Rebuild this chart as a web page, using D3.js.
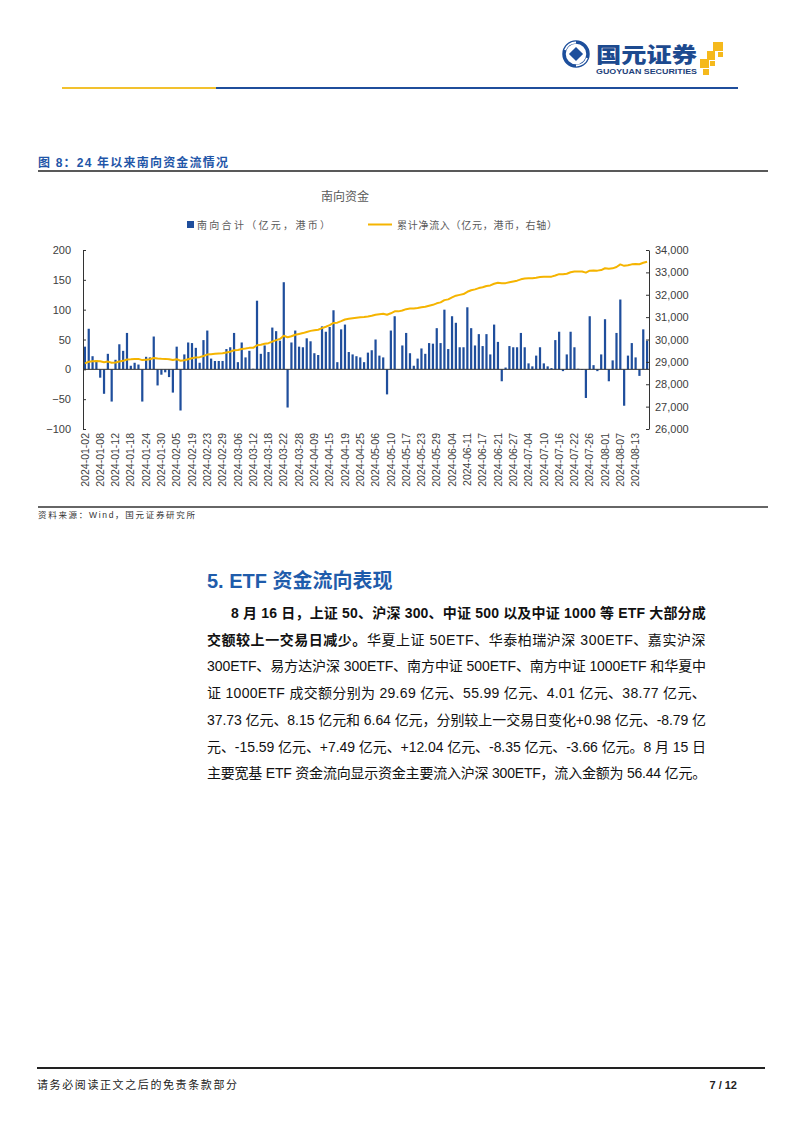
<!DOCTYPE html>
<html><head><meta charset="utf-8">
<script src="https://cdn.jsdelivr.net/npm/d3@7"></script>
<style>
body{margin:0;background:#fff;}
svg{display:block;}
</style></head><body>
<svg id="page" width="802" height="1133"></svg>
<script>
// ---------------- DATA ----------------
const dates = [
"2024-01-02","2024-01-03","2024-01-04","2024-01-05","2024-01-08","2024-01-09","2024-01-10","2024-01-11","2024-01-12","2024-01-15",
"2024-01-16","2024-01-17","2024-01-18","2024-01-19","2024-01-22","2024-01-23","2024-01-24","2024-01-25","2024-01-26","2024-01-29",
"2024-01-30","2024-01-31","2024-02-01","2024-02-02","2024-02-05","2024-02-06","2024-02-07","2024-02-08","2024-02-19","2024-02-20",
"2024-02-21","2024-02-22","2024-02-23","2024-02-26","2024-02-27","2024-02-28","2024-02-29","2024-03-01","2024-03-04","2024-03-05",
"2024-03-06","2024-03-07","2024-03-08","2024-03-11","2024-03-12","2024-03-13","2024-03-14","2024-03-15","2024-03-18","2024-03-19",
"2024-03-20","2024-03-21","2024-03-22","2024-03-25","2024-03-26","2024-03-27","2024-03-28","2024-04-02","2024-04-03","2024-04-08",
"2024-04-09","2024-04-10","2024-04-11","2024-04-12","2024-04-15","2024-04-16","2024-04-17","2024-04-18","2024-04-19","2024-04-22",
"2024-04-23","2024-04-24","2024-04-25","2024-04-26","2024-04-29","2024-04-30","2024-05-06","2024-05-07","2024-05-08","2024-05-09",
"2024-05-10","2024-05-13","2024-05-14","2024-05-16","2024-05-17","2024-05-20","2024-05-21","2024-05-22","2024-05-23","2024-05-24",
"2024-05-27","2024-05-28","2024-05-29","2024-05-30","2024-05-31","2024-06-03","2024-06-04","2024-06-05","2024-06-06","2024-06-07",
"2024-06-11","2024-06-12","2024-06-13","2024-06-14","2024-06-17","2024-06-18","2024-06-19","2024-06-20","2024-06-21","2024-06-24",
"2024-06-25","2024-06-26","2024-06-27","2024-06-28","2024-07-02","2024-07-03","2024-07-04","2024-07-05","2024-07-08","2024-07-09",
"2024-07-10","2024-07-11","2024-07-12","2024-07-15","2024-07-16","2024-07-17","2024-07-18","2024-07-19","2024-07-22","2024-07-23",
"2024-07-24","2024-07-25","2024-07-26","2024-07-29","2024-07-30","2024-07-31","2024-08-01","2024-08-02","2024-08-05","2024-08-06",
"2024-08-07","2024-08-08","2024-08-09","2024-08-12","2024-08-13","2024-08-14","2024-08-15","2024-08-16"
];

// 南向合计（亿元，港币）
const southboundNet = [
38,68,22,15,-14,-41,26,-54,16,42,
31,61,6,11,8,-54,21,20,55,-27,
-9,-5,-13,-39,38,-69,25,45,44,36,
11,49,65,18,14,14,14,34,37,61,
12,45,20,31,1,115,26,40,29,70,
64,48,146,-64,45,65,38,37,52,47,
27,24,72,63,71,99,12,67,75,29,
25,22,20,12,28,32,50,23,20,-42,
65,89,-1,40,61,27,6,18,35,26,
44,43,69,44,100,34,89,78,37,37,
104,69,40,59,39,59,25,75,46,-20,
3,39,37,37,61,37,10,5,23,37,
10,5,2,49,63,-3,25,63,37,1,
-1,-48,89,7,-3,25,84,-20,15,61,
117,-61,23,44,20,-11,67,48
];

// 累计净流入（亿元，港币，右轴）
const cumulativeInflow = [
28936,29004,29026,29041,29027,28986,29012,28958,28974,29016,
29047,29108,29114,29125,29133,29079,29100,29120,29175,29148,
29139,29134,29121,29082,29120,29051,29076,29121,29165,29201,
29212,29261,29326,29344,29358,29372,29386,29420,29457,29518,
29530,29575,29595,29626,29627,29742,29768,29808,29837,29907,
29971,30019,30165,30101,30146,30211,30249,30286,30338,30385,
30412,30436,30508,30571,30642,30741,30753,30820,30895,30924,
30949,30971,30991,31002,31029,31060,31109,31131,31150,31107,
31172,31260,31258,31297,31357,31383,31388,31405,31439,31464,
31507,31549,31617,31660,31760,31793,31881,31958,31994,32030,
32133,32201,32240,32298,32336,32394,32418,32492,32538,32517,
32519,32557,32593,32629,32689,32725,32734,32738,32760,32796,
32805,32809,32810,32859,32921,32917,32941,33003,33039,33039,
33037,32988,33076,33082,33078,33102,33185,33165,33179,33239,
33355,33293,33315,33358,33377,33365,33431,33478
];

const xTickLabels = [
"2024-01-02","2024-01-08","2024-01-12","2024-01-18","2024-01-24","2024-01-30","2024-02-05","2024-02-19","2024-02-23","2024-02-29",
"2024-03-06","2024-03-12","2024-03-18","2024-03-22","2024-03-28","2024-04-09","2024-04-15","2024-04-19","2024-04-25","2024-05-06",
"2024-05-10","2024-05-17","2024-05-23","2024-05-29","2024-06-04","2024-06-11","2024-06-17","2024-06-21","2024-06-27","2024-07-04",
"2024-07-10","2024-07-16","2024-07-22","2024-07-26","2024-08-01","2024-08-07","2024-08-13"
];
const leftTicks = [200,150,100,50,0,-50,-100];
const rightTicks = [34000,33000,32000,31000,30000,29000,28000,27000,26000];

const seriesNames = ["南向合计（亿元，港币）","累计净流入（亿元，港币，右轴）"];
const chartTitle = "南向资金";
const figTitle = "图 8：24 年以来南向资金流情况";
const sourceText = "资料来源：Wind，国元证券研究所";
const sectionTitle = "5. ETF 资金流向表现";
const paraLines = [
 {indent:true, segs:[["8 月 16 日，上证 50、沪深 300、中证 500 以及中证 1000 等 ETF 大部分成",true]]},
 {indent:false, segs:[["交额较上一交易日减少。",true],["华夏上证 50ETF、华泰柏瑞沪深 300ETF、嘉实沪深",false]]},
 {indent:false, segs:[["300ETF、易方达沪深 300ETF、南方中证 500ETF、南方中证 1000ETF 和华夏中",false]]},
 {indent:false, segs:[["证 1000ETF 成交额分别为 29.69 亿元、55.99 亿元、4.01 亿元、38.77 亿元、",false]]},
 {indent:false, segs:[["37.73 亿元、8.15 亿元和 6.64 亿元，分别较上一交易日变化+0.98 亿元、-8.79 亿",false]]},
 {indent:false, segs:[["元、-15.59 亿元、+7.49 亿元、+12.04 亿元、-8.35 亿元、-3.66 亿元。8 月 15 日",false]]},
 {indent:false, segs:[["主要宽基 ETF 资金流向显示资金主要流入沪深 300ETF，流入金额为 56.44 亿元。",false]]}
];
const footerText = "请务必阅读正文之后的免责条款部分";
const pageText = "7 / 12";

// ---------------- STYLE ----------------
const FONT = "'Liberation Sans', Arial, 'Noto Sans CJK SC', sans-serif";
const CJK = "'Noto Sans CJK SC', sans-serif";
const BAR = "#1f4e9c";
const LINE = "#f5b400";
const AXIS_TXT = "#404040";
const BLUE_TXT = "#1f56a8";

const svg = d3.select("#page");

// ---------------- HEADER ----------------
const logo = svg.append("g");
logo.append("circle").attr("cx",576).attr("cy",54).attr("r",12)
  .attr("fill","none").attr("stroke","#1d4f9c").attr("stroke-width",3.5);
logo.append("rect").attr("x",571).attr("y",49).attr("width",10).attr("height",10)
  .attr("transform","rotate(45,576,54)").attr("fill","#1d4f9c");
logo.append("path").attr("d","M565,50 A11.5,11.5 0 0 1 576,42.5").attr("stroke","#fff").attr("stroke-width",1.8).attr("fill","none");
logo.append("path").attr("d","M587,58 A11.5,11.5 0 0 1 576,65.5").attr("stroke","#fff").attr("stroke-width",1.8).attr("fill","none");
logo.append("text").attr("x",596).attr("y",62).text("国元证券")
  .attr("font-family",CJK).attr("font-weight",900).attr("font-size",21)
  .attr("fill","#1d4a8f").attr("textLength",101).attr("lengthAdjust","spacingAndGlyphs");
logo.append("text").attr("x",596).attr("y",73.5).text("GUOYUAN SECURITIES")
  .attr("font-family",FONT).attr("font-weight",700).attr("font-size",8)
  .attr("fill","#1d3f7a").attr("textLength",101).attr("lengthAdjust","spacingAndGlyphs");
const gold = "#f5b91c";
[[713,42,10,9],[707,51,8,9],[700,59,9,9],[718,52,5,5],[710,61,5,5],[703,69,6,6]].forEach(r=>{
  logo.append("rect").attr("x",r[0]).attr("y",r[1]).attr("width",r[2]).attr("height",r[3]).attr("fill",gold);
});
svg.append("line").attr("x1",62).attr("x2",216).attr("y1",88).attr("y2",88).attr("stroke","#f2c12e").attr("stroke-width",2);
svg.append("line").attr("x1",216).attr("x2",738).attr("y1",88).attr("y2",88).attr("stroke","#1f4e9c").attr("stroke-width",2);

// ---------------- FIGURE TITLE ----------------
svg.append("text").attr("x",38).attr("y",166.5).text(figTitle)
  .attr("font-family",FONT).attr("font-weight",700).attr("font-size",12).attr("fill",BLUE_TXT)
  .attr("textLength",190).attr("lengthAdjust","spacing");
svg.append("line").attr("x1",38).attr("x2",768).attr("y1",171).attr("y2",171).attr("stroke","#222").attr("stroke-width",1.5);

// ---------------- CHART ----------------
const X0=83, X1=649, YT=250, YB=429;
const x = d3.scaleBand().domain(dates).range([X0,X1]).paddingInner(0.42).paddingOuter(0.21);
const xc = d => x(d) + x.bandwidth()/2;
const yL = d3.scaleLinear().domain([-100,200]).range([YB,YT]);
const yR = d3.scaleLinear().domain([26000,34000]).range([YB,YT]);

svg.append("text").attr("x",345).attr("y",201).attr("text-anchor","middle").text(chartTitle)
  .attr("font-family",CJK).attr("font-size",12).attr("fill","#595959");

// legend
const lg = svg.append("g").attr("font-family",FONT).attr("font-size",10).attr("fill","#595959");
lg.append("rect").attr("x",187).attr("y",221).attr("width",7).attr("height",7).attr("fill",BAR);
lg.append("text").attr("x",197).attr("y",228.5).text(seriesNames[0]).attr("textLength",133).attr("lengthAdjust","spacing");
lg.append("line").attr("x1",368).attr("x2",392).attr("y1",224.5).attr("y2",224.5).attr("stroke",LINE).attr("stroke-width",2);
lg.append("text").attr("x",397).attr("y",228.5).text(seriesNames[1]).attr("textLength",160).attr("lengthAdjust","spacing");

// bars
svg.append("g").selectAll("rect").data(southboundNet).join("rect")
  .attr("x",(v,i)=>x(dates[i]))
  .attr("width",x.bandwidth())
  .attr("y",v=>yL(Math.max(0,v)))
  .attr("height",v=>Math.abs(yL(v)-yL(0)))
  .attr("fill",BAR);

// zero axis
svg.append("line").attr("x1",X0).attr("x2",X1).attr("y1",yL(0)).attr("y2",yL(0)).attr("stroke","#333").attr("stroke-width",1);

// line
svg.append("path").datum(cumulativeInflow)
  .attr("d",d3.line().x((v,i)=>xc(dates[i])).y(v=>yR(v)))
  .attr("fill","none").attr("stroke",LINE).attr("stroke-width",2).attr("stroke-linejoin","round");

// axes
const ax = svg.append("g").attr("transform",`translate(${X0},0)`)
  .call(d3.axisLeft(yL).tickValues(leftTicks).tickSizeInner(-3).tickSizeOuter(0).tickPadding(12));
const ar = svg.append("g").attr("transform",`translate(${X1},0)`)
  .call(d3.axisRight(yR).tickValues(rightTicks).tickSizeInner(-3).tickSizeOuter(0).tickPadding(6).tickFormat(d3.format(",")));
[ax,ar].forEach(g=>{
  g.select(".domain").attr("stroke","#333");
  g.selectAll(".tick line").attr("stroke","#333");
  g.selectAll("text").attr("font-family",FONT).attr("font-size",11).attr("fill",AXIS_TXT);
});

// x tick labels
svg.append("g").selectAll("text").data(xTickLabels).join("text")
  .attr("transform",d=>`translate(${xc(d)},433) rotate(-90)`)
  .attr("text-anchor","end").attr("dy","0.35em")
  .attr("font-family",FONT).attr("font-size",10.5).attr("fill",AXIS_TXT)
  .text(d=>d);

// source
svg.append("line").attr("x1",38).attr("x2",768).attr("y1",507).attr("y2",507).attr("stroke","#333").attr("stroke-width",1.5);
svg.append("text").attr("x",38).attr("y",518).text(sourceText)
  .attr("font-family",FONT).attr("font-size",8.5).attr("fill","#333")
  .attr("textLength",157).attr("lengthAdjust","spacing");

// ---------------- SECTION ----------------
svg.append("text").attr("x",207).attr("y",588).text(sectionTitle)
  .attr("font-family",FONT).attr("font-weight",700).attr("font-size",20).attr("fill","#1f5cab");

const P_LEFT=207, P_INDENT=231, P_RIGHT=706, P_Y0=618, P_DY=26.7;
paraLines.forEach((ln,k)=>{
  const t = svg.append("text").attr("x", ln.indent?P_INDENT:P_LEFT).attr("y",P_Y0+k*P_DY)
    .attr("font-family",FONT).attr("font-size",14).attr("fill","#111");
  ln.segs.forEach(s=>t.append("tspan").text(s[0]).attr("font-weight",s[1]?700:400));
  const node=t.node();
  const w=node.getComputedTextLength();
  const n=node.textContent.length;
  const target=P_RIGHT-(ln.indent?P_INDENT:P_LEFT);
  t.attr("letter-spacing",(target-w)/n);
});

// ---------------- FOOTER ----------------
svg.append("line").attr("x1",37).attr("x2",765).attr("y1",1068).attr("y2",1068).attr("stroke","#222").attr("stroke-width",2);
svg.append("text").attr("x",37).attr("y",1089).text(footerText)
  .attr("font-family",CJK).attr("font-size",11).attr("fill","#222")
  .attr("textLength",200).attr("lengthAdjust","spacing");
svg.append("text").attr("x",737).attr("y",1089).attr("text-anchor","end").text(pageText)
  .attr("font-family",FONT).attr("font-weight",700).attr("font-size",11).attr("fill","#222");
</script>
</body></html>
